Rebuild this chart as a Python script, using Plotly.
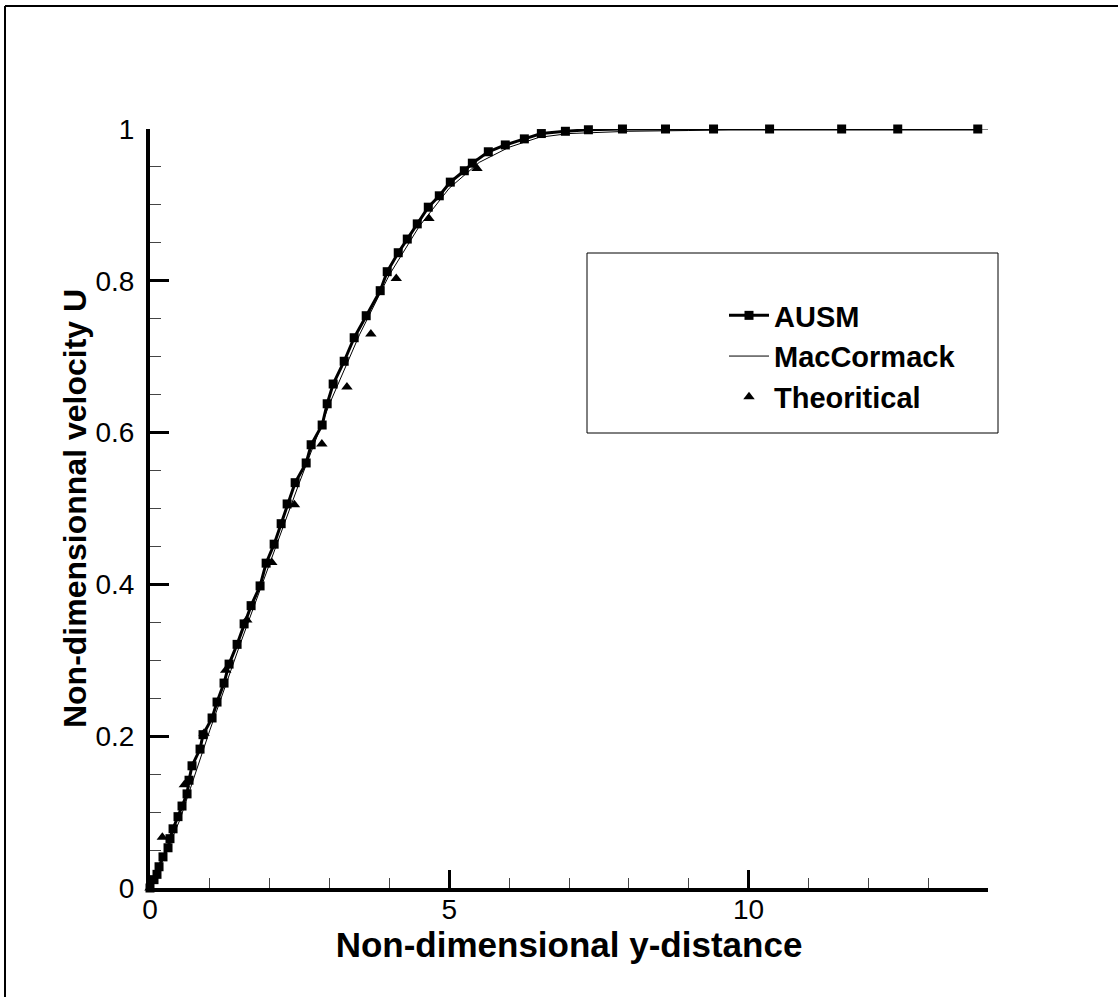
import plotly.graph_objects as go

# ---------------- data ----------------
ausm_x = [0.000, 0.067, 0.117, 0.151, 0.217, 0.301, 0.334, 0.385, 0.468, 0.535,
          0.619, 0.652, 0.702, 0.836, 0.886, 1.037, 1.120, 1.237, 1.321, 1.455,
          1.572, 1.689, 1.839, 1.940, 2.074, 2.191, 2.291, 2.425, 2.609, 2.692,
          2.876, 2.960, 3.060, 3.244, 3.411, 3.612, 3.846, 3.963, 4.147, 4.298,
          4.465, 4.649, 4.833, 5.017, 5.251, 5.385, 5.652, 5.936, 6.254, 6.538,
          6.940, 7.324, 7.893, 8.612, 9.415, 10.351, 11.555, 12.492, 13.829]
ausm_y = [0.000, 0.011, 0.018, 0.028, 0.041, 0.053, 0.065, 0.078, 0.094, 0.108,
          0.124, 0.142, 0.161, 0.183, 0.202, 0.224, 0.245, 0.270, 0.295, 0.321,
          0.348, 0.372, 0.398, 0.428, 0.453, 0.480, 0.506, 0.534, 0.560, 0.584,
          0.610, 0.638, 0.664, 0.694, 0.725, 0.754, 0.787, 0.812, 0.837, 0.855,
          0.875, 0.897, 0.912, 0.930, 0.945, 0.955, 0.970, 0.979, 0.987, 0.994,
          0.997, 0.999, 1.000, 1.000, 1.000, 1.000, 1.000, 1.000, 1.000]

mac_x = [0.0, 0.25, 0.5, 1.0, 1.5, 2.0, 2.5, 3.0, 3.5, 4.0, 4.5, 5.0, 5.5,
         6.0, 6.5, 7.0, 7.5, 8.0, 9.0, 10.0, 11.0, 12.0, 13.0, 14.0]
mac_y = [0.0, 0.043, 0.090, 0.208, 0.320, 0.428, 0.535, 0.638, 0.729, 0.808,
         0.872, 0.922, 0.956, 0.976, 0.989, 0.994, 0.996, 0.997, 0.998, 1.0,
         1.0, 1.0, 1.0, 1.0]

theo_x = [0.0, 0.206, 0.574, 0.903, 1.265, 1.617, 2.035, 2.413, 2.871, 3.29,
          3.69, 4.114, 4.66, 5.463, 7.74, 8.85, 10.52, 12.60]
theo_y = [0.0, 0.067, 0.136, 0.204, 0.287, 0.353, 0.429, 0.505, 0.585, 0.660,
          0.730, 0.803, 0.882, 0.948, 1.004, 1.005, 1.005, 1.004]

series_names = ["AUSM", "MacCormack", "Theoritical"]
x_title = "Non-dimensional y-distance"
y_title = "Non-dimensionnal velocity U"

FONT = "Liberation Sans, Arial, Helvetica, sans-serif"

fig = go.Figure()
fig.add_trace(go.Scatter(
    x=ausm_x, y=ausm_y, mode="lines+markers", name=series_names[0],
    line=dict(color="black", width=3),
    marker=dict(symbol="square", size=9, color="black"),
    cliponaxis=False))
fig.add_trace(go.Scatter(
    x=mac_x, y=mac_y, mode="lines", name=series_names[1],
    line=dict(color="black", width=1), cliponaxis=False))
fig.add_trace(go.Scatter(
    x=theo_x, y=theo_y, mode="markers", name=series_names[2],
    marker=dict(symbol="triangle-up", size=10, color="black"),
    cliponaxis=False))

W, H = 1118, 997
L, R, T, B = 150, 130, 129, 109
pw, ph = W - L - R, H - T - B


def px(xp):
    return (xp - L) / pw


def py(yp):
    return (H - B - yp) / ph


fig.update_layout(
    width=W, height=H,
    margin=dict(l=L, r=R, t=T, b=B),
    paper_bgcolor="white", plot_bgcolor="white",
    font=dict(family=FONT, color="black"),
    showlegend=True,
    legend=dict(
        x=px(724), y=py(290), xanchor="left", yanchor="top",
        bgcolor="rgba(0,0,0,0)", borderwidth=0,
        font=dict(family=FONT, size=29, color="black", weight="bold"),
        itemwidth=40,
    ),
    xaxis=dict(
        range=[0, 14], showgrid=False, zeroline=False,
        showline=True, linecolor="black", linewidth=4,
        ticks="inside", ticklen=18, tickwidth=3, tickcolor="black",
        tickvals=[0, 5, 10], ticktext=["0", "5", "10"],
        minor=dict(ticks="inside", ticklen=10, tickwidth=1, tickcolor="#444",
                   dtick=1, showgrid=False),
        tickfont=dict(family=FONT, size=28, color="black"),
        ticklabelstandoff=-7,
        title=dict(text=x_title, standoff=0,
                   font=dict(family=FONT, size=35, color="black", weight="bold")),
    ),
    yaxis=dict(
        range=[0, 1], showgrid=False, zeroline=False,
        showline=True, linecolor="black", linewidth=4,
        ticks="inside", ticklen=19, tickwidth=3, tickcolor="black",
        tickvals=[0, 0.2, 0.4, 0.6, 0.8, 1.0],
        ticktext=["0", "0.2", "0.4", "0.6", "0.8", "1"],
        minor=dict(ticks="inside", ticklen=11, tickwidth=1, tickcolor="#444",
                   dtick=0.05, showgrid=False),
        tickfont=dict(family=FONT, size=28, color="black"),
        ticklabelstandoff=6,
        title=dict(text=y_title, standoff=0,
                   font=dict(family=FONT, size=32, color="black", weight="bold")),
    ),
    shapes=[
        # legend frame
        dict(type="rect", xref="paper", yref="paper",
             x0=px(587), x1=px(998), y0=py(433), y1=py(253),
             line=dict(color="black", width=1), fillcolor="rgba(0,0,0,0)",
             layer="below"),
        # outer page frame (top and left edges visible)
        dict(type="line", xref="paper", yref="paper",
             x0=px(5), x1=px(1130), y0=py(6), y1=py(6),
             line=dict(color="black", width=2)),
        dict(type="line", xref="paper", yref="paper",
             x0=px(5), x1=px(5), y0=py(6), y1=py(1010),
             line=dict(color="black", width=2)),
    ],
)

fig.write_html("out.html")
